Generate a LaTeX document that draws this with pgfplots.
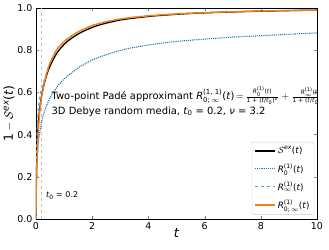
\documentclass[border=0pt]{standalone}
\usepackage{fontspec}
\setmainfont{DejaVu Sans}
\usepackage{amsmath}
\usepackage{pgfplots}
\pgfplotsset{compat=1.18}
\definecolor{tabblue}{RGB}{31,119,180}
\definecolor{taborange}{RGB}{255,127,14}
\newcommand{\tx}[1]{\text{#1}}
\newcommand{\ti}[1]{\textit{#1}}
\newcommand{\pt}{\text{(\textit{t})}}
\newcommand{\smallpart}[1]{\text{\fontsize{6}{7}\selectfont #1}}
\begin{document}
\begin{tikzpicture}
\begin{axis}[
  scale only axis, width=281bp, height=211bp,
  xmin=0, xmax=10, ymin=0, ymax=1,
  xtick={0,2,4,6,8,10}, ytick={0,0.2,0.4,0.6,0.8,1.0},
  yticklabel style={/pgf/number format/.cd, fixed, fixed zerofill, precision=1},
  /pgf/number format/assume math mode=true,
  tick label style={font=\fontsize{9.5}{11}\selectfont},
  tick align=inside, major tick length=3bp,
  xtick pos=both, ytick pos=both,
  axis line style={black, line width=0.8bp},
  xlabel={\fontsize{13}{15}\selectfont $\ti{t}$},
  ylabel={\fontsize{12.5}{15}\selectfont $\tx{1} - \mathcal{S}^{\ti{ex}}\pt$},
  xlabel style={yshift=8bp},
  ylabel style={yshift=-4bp},
  legend style={at={(0.99,0.02)}, anchor=south east, draw=black!20, rounded corners=2bp,
    font=\fontsize{8.8}{10}\selectfont, row sep=4.2bp, inner sep=2.5bp},
  legend image code/.code={\draw[#1] (0bp,0bp) -- (20bp,0bp);},
  legend cell align=left,
]
\addplot[gray!50, dashed, line width=0.8bp, forget plot] coordinates {(0.2,0) (0.2,1)};

\addplot[black, line width=1.3bp, smooth] coordinates {
(0,0) (0.005,0.12) (0.01,0.17) (0.03,0.29) (0.06,0.40) (0.1,0.48) (0.15,0.54) (0.2,0.585)
(0.3,0.645) (0.4,0.69) (0.5,0.725) (0.75,0.788) (1.1,0.84) (1.57,0.882) (2.17,0.916)
(3,0.943) (4,0.96) (5,0.97) (6,0.977) (8,0.985) (10,0.99)};
\addlegendentry{$\mathcal{S}^{\ti{ex}}\pt$}

\addplot[tabblue, densely dotted, line width=1.1bp, smooth] coordinates {
(0,0) (0.01,0.12) (0.03,0.22) (0.06,0.31) (0.1,0.38) (0.2,0.46) (0.3,0.51) (0.45,0.56)
(0.62,0.60) (0.8,0.635) (1.1,0.675) (1.57,0.722) (2.17,0.763) (3.18,0.805) (4.5,0.834)
(5.56,0.848) (7,0.862) (7.9,0.868) (10,0.882)};
\addlegendentry{$\ti{R}_{\tx{0}}^{\tx{(1)}}\pt$}

\addplot[tabblue!70, dashed, line width=1.3bp, smooth] coordinates {
(0.005,0) (0.01,0.15) (0.02,0.28) (0.04,0.40) (0.07,0.49) (0.1,0.54) (0.15,0.585) (0.2,0.615)
(0.3,0.66) (0.4,0.70) (0.5,0.74) (0.75,0.805) (1.1,0.852) (1.57,0.892) (2.17,0.924)
(3,0.948) (4,0.963) (5,0.972) (6,0.978) (8,0.986) (10,0.99)};
\addlegendentry{$\ti{R}_{\infty}^{\tx{(1)}}\pt$}

\addplot[taborange, line width=1.3bp, smooth] coordinates {
(0,0) (0.01,0.13) (0.02,0.2) (0.05,0.33) (0.1,0.45) (0.15,0.53) (0.2,0.58) (0.25,0.615)
(0.32,0.66) (0.4,0.70) (0.5,0.74) (0.75,0.805) (1.1,0.852) (1.57,0.892) (2.17,0.924)
(3,0.948) (4,0.963) (5,0.972) (6,0.978) (8,0.986) (10,0.99)};
\addlegendentry{$\ti{R}_{\tx{0;}\,\infty}^{\tx{(1)}}\pt$}

\node[anchor=west, font=\fontsize{10}{12}\selectfont, inner sep=0pt] at (axis cs:0.55,0.585)
 {Two-point Padé approximant $\ti{R}^{\tx{(1, 1)}}_{\tx{0;}\,\infty}\pt\,{=}\,\frac{\smallpart{\ti{R}$_{\tx{0}}^{\tx{(1)}}$(\ti{t})}}{\smallpart{1 + (\ti{t}/\ti{t}$_{\tx{0}}$)$^{\ti{ν}}$}} + \frac{\smallpart{\ti{R}$_{\infty}^{\tx{(1)}}$(\ti{t})}}{\smallpart{1 + (\ti{t}/\ti{t}$_{\tx{0}}$)$^{\tx{−}\ti{ν}}$}}$};
\node[anchor=west, font=\fontsize{10}{12}\selectfont, inner sep=0pt] at (axis cs:0.55,0.51)
 {3D Debye random media, \ti{t}$_{\tx{0}}$ = 0.2, \ti{ν} = 3.2};
\node[anchor=west, font=\fontsize{8}{9}\selectfont, inner sep=0pt] at (axis cs:0.35,0.11)
 {\ti{t}$_{\tx{0}}$ = 0.2};
\end{axis}
\pgfresetboundingbox
\path ([shift={(-36bp,-31bp)}]current axis.south west) rectangle ([shift={(12bp,8bp)}]current axis.north east);
\end{tikzpicture}
\end{document}
